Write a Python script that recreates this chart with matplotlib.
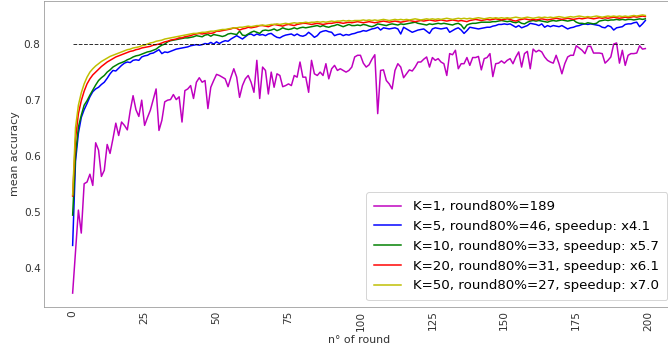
import matplotlib
matplotlib.use("Agg")
import matplotlib.pyplot as plt

rounds = list(range(200))

acc_k1 = [
0.355,0.430,0.503,0.462,0.550,0.553,0.567,0.547,0.623,0.610,
0.563,0.574,0.620,0.604,0.630,0.658,0.636,0.660,0.654,0.646,
0.680,0.707,0.682,0.670,0.699,0.654,0.668,0.681,0.700,0.719,
0.645,0.663,0.696,0.699,0.700,0.709,0.700,0.705,0.660,0.716,
0.719,0.725,0.702,0.731,0.739,0.731,0.734,0.684,0.722,0.734,
0.745,0.743,0.740,0.737,0.723,0.740,0.755,0.740,0.704,0.725,
0.737,0.743,0.731,0.713,0.770,0.702,0.758,0.752,0.710,0.749,
0.722,0.746,0.743,0.723,0.725,0.728,0.725,0.743,0.740,0.767,
0.740,0.740,0.713,0.770,0.746,0.743,0.749,0.743,0.764,0.737,
0.755,0.761,0.752,0.755,0.752,0.749,0.752,0.758,0.776,0.779,
0.779,0.765,0.758,0.762,0.772,0.780,0.675,0.752,0.753,0.734,
0.728,0.719,0.752,0.764,0.758,0.739,0.746,0.753,0.751,0.758,
0.767,0.767,0.772,0.776,0.758,0.775,0.770,0.773,0.767,0.764,
0.743,0.782,0.780,0.788,0.755,0.764,0.764,0.775,0.761,0.775,
0.775,0.777,0.753,0.773,0.775,0.782,0.741,0.764,0.765,0.769,
0.765,0.770,0.773,0.764,0.776,0.785,0.758,0.782,0.786,0.755,
0.790,0.785,0.788,0.785,0.776,0.770,0.767,0.765,0.779,0.764,
0.746,0.764,0.776,0.779,0.779,0.796,0.792,0.788,0.782,0.795,
0.795,0.783,0.783,0.783,0.782,0.765,0.770,0.776,0.799,0.801,
0.765,0.788,0.761,0.779,0.782,0.782,0.783,0.796,0.790,0.791]

acc_k5 = [
0.440,0.590,0.640,0.668,0.682,0.693,0.705,0.714,0.719,0.722,
0.727,0.731,0.738,0.746,0.752,0.751,0.756,0.761,0.765,0.767,
0.766,0.770,0.771,0.770,0.776,0.778,0.779,0.782,0.783,0.786,
0.789,0.782,0.785,0.784,0.786,0.788,0.790,0.791,0.792,0.793,
0.794,0.796,0.797,0.798,0.797,0.798,0.800,0.799,0.802,0.799,
0.803,0.800,0.803,0.805,0.804,0.808,0.811,0.814,0.811,0.808,
0.812,0.816,0.817,0.814,0.817,0.815,0.816,0.814,0.817,0.818,
0.814,0.811,0.810,0.813,0.815,0.816,0.817,0.814,0.817,0.814,
0.813,0.815,0.820,0.816,0.811,0.814,0.820,0.822,0.823,0.821,
0.820,0.814,0.816,0.817,0.814,0.816,0.815,0.817,0.818,0.820,
0.821,0.823,0.822,0.824,0.826,0.827,0.829,0.824,0.828,0.827,
0.826,0.827,0.828,0.826,0.817,0.829,0.826,0.823,0.820,0.822,
0.824,0.825,0.826,0.822,0.818,0.826,0.828,0.827,0.826,0.827,
0.828,0.820,0.823,0.826,0.828,0.824,0.818,0.823,0.829,0.828,
0.827,0.826,0.827,0.828,0.829,0.829,0.831,0.832,0.834,0.834,
0.835,0.834,0.835,0.832,0.829,0.832,0.828,0.830,0.832,0.836,
0.835,0.834,0.832,0.835,0.829,0.832,0.830,0.832,0.831,0.830,
0.832,0.829,0.826,0.828,0.829,0.831,0.832,0.834,0.835,0.834,
0.835,0.834,0.833,0.832,0.829,0.828,0.832,0.830,0.824,0.828,
0.829,0.830,0.834,0.835,0.835,0.837,0.838,0.830,0.835,0.841]

acc_k10 = [
0.494,0.600,0.651,0.672,0.690,0.698,0.708,0.717,0.726,0.734,
0.739,0.743,0.749,0.753,0.758,0.761,0.764,0.766,0.768,0.771,
0.773,0.776,0.778,0.779,0.781,0.783,0.785,0.786,0.788,0.790,
0.794,0.797,0.799,0.803,0.805,0.806,0.807,0.808,0.809,0.810,
0.810,0.811,0.812,0.814,0.813,0.812,0.815,0.816,0.813,0.816,
0.815,0.814,0.8125,0.814,0.817,0.818,0.817,0.816,0.822,0.815,
0.814,0.817,0.820,0.822,0.820,0.818,0.823,0.824,0.823,0.824,
0.826,0.823,0.825,0.828,0.826,0.825,0.826,0.828,0.826,0.828,
0.829,0.828,0.829,0.830,0.831,0.832,0.830,0.832,0.830,0.829,
0.831,0.832,0.834,0.832,0.830,0.832,0.834,0.832,0.832,0.833,
0.832,0.834,0.833,0.831,0.830,0.832,0.835,0.834,0.833,0.832,
0.834,0.835,0.834,0.833,0.835,0.834,0.835,0.836,0.837,0.838,
0.836,0.835,0.834,0.833,0.835,0.834,0.835,0.836,0.835,0.836,
0.835,0.834,0.833,0.835,0.836,0.833,0.826,0.833,0.835,0.836,
0.836,0.837,0.838,0.838,0.838,0.838,0.839,0.839,0.840,0.841,
0.840,0.839,0.840,0.838,0.837,0.839,0.836,0.835,0.838,0.840,
0.841,0.840,0.841,0.840,0.839,0.838,0.840,0.841,0.840,0.841,
0.842,0.841,0.840,0.841,0.842,0.838,0.836,0.836,0.835,0.837,
0.836,0.835,0.836,0.840,0.841,0.842,0.841,0.842,0.842,0.843,
0.842,0.843,0.842,0.843,0.843,0.842,0.843,0.844,0.843,0.844]

acc_k20 = [
0.528,0.630,0.675,0.698,0.715,0.728,0.737,0.744,0.749,0.754,
0.759,0.763,0.767,0.770,0.773,0.776,0.778,0.780,0.782,0.784,
0.786,0.787,0.789,0.790,0.792,0.793,0.794,0.795,0.797,0.798,
0.799,0.801,0.803,0.804,0.806,0.807,0.808,0.810,0.810,0.812,
0.813,0.814,0.816,0.817,0.818,0.817,0.818,0.819,0.818,0.819,
0.822,0.822,0.823,0.824,0.825,0.826,0.828,0.827,0.824,0.826,
0.827,0.829,0.828,0.829,0.830,0.832,0.832,0.831,0.830,0.832,
0.834,0.833,0.832,0.831,0.833,0.834,0.833,0.832,0.834,0.835,
0.836,0.836,0.835,0.834,0.835,0.836,0.835,0.834,0.835,0.836,
0.836,0.837,0.838,0.837,0.836,0.837,0.838,0.837,0.838,0.839,
0.838,0.837,0.838,0.839,0.838,0.837,0.838,0.839,0.840,0.839,
0.838,0.839,0.840,0.839,0.838,0.839,0.840,0.841,0.840,0.839,
0.840,0.841,0.840,0.841,0.842,0.841,0.840,0.841,0.842,0.841,
0.840,0.841,0.842,0.841,0.840,0.841,0.840,0.839,0.841,0.842,
0.843,0.842,0.841,0.842,0.843,0.842,0.843,0.844,0.843,0.842,
0.843,0.844,0.843,0.841,0.840,0.842,0.843,0.844,0.843,0.842,
0.843,0.842,0.843,0.844,0.843,0.842,0.843,0.844,0.845,0.844,
0.843,0.844,0.845,0.844,0.843,0.844,0.845,0.844,0.845,0.846,
0.845,0.844,0.845,0.846,0.845,0.846,0.845,0.846,0.847,0.846,
0.845,0.846,0.847,0.846,0.847,0.848,0.847,0.848,0.849,0.848]

acc_k50 = [
0.530,0.650,0.690,0.712,0.728,0.740,0.749,0.755,0.760,0.764,
0.768,0.771,0.774,0.777,0.779,0.781,0.783,0.785,0.787,0.789,
0.790,0.792,0.793,0.794,0.796,0.797,0.799,0.801,0.802,0.804,
0.805,0.806,0.808,0.809,0.810,0.811,0.812,0.813,0.814,0.815,
0.816,0.817,0.818,0.818,0.819,0.820,0.820,0.821,0.822,0.822,
0.823,0.824,0.825,0.825,0.826,0.827,0.828,0.828,0.829,0.829,
0.830,0.831,0.830,0.831,0.832,0.832,0.833,0.832,0.833,0.834,
0.834,0.835,0.834,0.835,0.836,0.835,0.836,0.837,0.836,0.837,
0.837,0.838,0.837,0.838,0.838,0.839,0.838,0.839,0.838,0.839,
0.840,0.839,0.840,0.840,0.841,0.840,0.841,0.840,0.841,0.841,
0.841,0.842,0.841,0.842,0.841,0.842,0.841,0.842,0.843,0.842,
0.841,0.842,0.843,0.842,0.843,0.842,0.843,0.842,0.843,0.844,
0.843,0.842,0.843,0.844,0.843,0.844,0.843,0.844,0.843,0.844,
0.845,0.844,0.843,0.844,0.845,0.844,0.845,0.844,0.845,0.844,
0.845,0.846,0.845,0.844,0.845,0.846,0.845,0.846,0.845,0.846,
0.845,0.846,0.845,0.846,0.847,0.846,0.845,0.846,0.847,0.846,
0.845,0.846,0.847,0.846,0.847,0.846,0.847,0.846,0.847,0.848,
0.847,0.846,0.847,0.848,0.847,0.848,0.849,0.848,0.847,0.848,
0.847,0.848,0.849,0.848,0.847,0.848,0.849,0.848,0.849,0.848,
0.849,0.848,0.849,0.848,0.849,0.850,0.849,0.850,0.851,0.850]

labels = [
    "K=1, round80%=189",
    "K=5, round80%=46, speedup: x4.1",
    "K=10, round80%=33, speedup: x5.7",
    "K=20, round80%=31, speedup: x6.1",
    "K=50, round80%=27, speedup: x7.0",
]
series = [acc_k1, acc_k5, acc_k10, acc_k20, acc_k50]
colors = ["m", "b", "g", "r", "y"]
target = 0.8
xticks = [0, 25, 50, 75, 100, 125, 150, 175, 200]

W, H, DPI = 668, 351, 72
fig = plt.figure(figsize=(W / DPI, H / DPI), dpi=DPI)
ax = fig.add_axes([44 / W, (H - 307) / H, 630 / W, 306 / H])

for ys, c, lab in zip(series, colors, labels):
    ax.plot(rounds, ys, color=c, lw=1.5, label=lab)
ax.plot([rounds[0], rounds[-1]], [target, target], color="black", ls="--", lw=1, alpha=0.8)

ax.set_xticks(xticks)
ax.set_xticklabels([str(t) for t in xticks], rotation=90)
ax.tick_params(labelsize=10.5, colors="#333333", length=0)
for sp in ax.spines.values():
    sp.set_color("#999999")
ax.set_xlabel("n° of round", fontsize=11, color="#333333")
ax.set_ylabel("mean accuracy", fontsize=11, color="#333333")
ax.legend(loc="lower right", fontsize=13.4, labelspacing=0.5,
          borderpad=0.6, handletextpad=0.9)

fig.savefig("out.png", dpi=DPI)
